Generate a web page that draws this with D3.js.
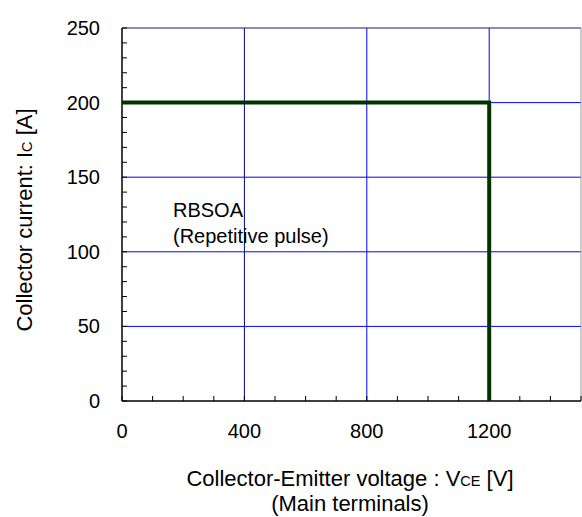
<!DOCTYPE html>
<html>
<head>
<meta charset="utf-8">
<script src="https://cdn.jsdelivr.net/npm/d3@7"></script>
<style>
  body { margin: 0; background: #fff; }
  text { font-family: "Liberation Sans", Arial, sans-serif; fill: #000; }
</style>
</head>
<body>
<script>
// RBSOA boundary (V, A)
const soaV = [0, 1200, 1200];
const soaI = [200, 200, 0];
const xTicks = [0, 400, 800, 1200];
const yTicks = [0, 50, 100, 150, 200, 250];
const xMinor = d3.range(0, 1501, 100);
const yMinor = d3.range(0, 251, 10);

const W = 582, H = 517;
const m = { left: 122, right: 1, top: 28, bottom: 116 };
const w = W - m.left - m.right, h = H - m.top - m.bottom;
const fs = 20, tfs = 22, sub = 14.5;

const svg = d3.select('body').append('svg').attr('width', W).attr('height', H);
const g = svg.append('g').attr('transform', `translate(${m.left},${m.top})`);

const x = d3.scaleLinear().domain([0, 1500]).range([0, w]);
const y = d3.scaleLinear().domain([0, 250]).range([h, 0]);

// grid
g.selectAll('.vg').data(xTicks.filter(d => d > 0)).enter().append('line')
  .attr('x1', d => x(d)).attr('x2', d => x(d)).attr('y1', 0).attr('y2', h)
  .attr('stroke', (d, i) => i == 0 ? '#000080' : '#0000ff').attr('stroke-width', 1);
g.selectAll('.hg').data(yTicks.filter(d => d > 0)).enter().append('line')
  .attr('x1', 0).attr('x2', w).attr('y1', d => y(d)).attr('y2', d => y(d))
  .attr('stroke', d => d == 250 ? '#1a1a6e' : '#0000ff').attr('stroke-width', 1);

// right border
g.append('line').attr('x1', w).attr('x2', w).attr('y1', 0).attr('y2', h)
  .attr('stroke', '#999');

// minor ticks, inward
g.selectAll('.xt').data(xMinor).enter().append('line')
  .attr('x1', d => x(d)).attr('x2', d => x(d)).attr('y1', h).attr('y2', h - 5)
  .attr('stroke', '#000');
g.selectAll('.yt').data(yMinor).enter().append('line')
  .attr('x1', 0).attr('x2', 5).attr('y1', d => y(d)).attr('y2', d => y(d))
  .attr('stroke', '#000');

// axes lines
g.append('line').attr('x1', 0).attr('x2', w).attr('y1', h).attr('y2', h).attr('stroke', '#000').attr('stroke-width', 1.5);
g.append('line').attr('x1', 0).attr('x2', 0).attr('y1', 0).attr('y2', h).attr('stroke', '#000').attr('stroke-width', 1.5);

// SOA line
const line = d3.line().x((d, i) => x(soaV[i])).y((d, i) => y(soaI[i]));
g.append('path').datum(soaV).attr('d', line)
  .attr('fill', 'none').attr('stroke', '#003300').attr('stroke-width', 4)
  .attr('stroke-linejoin', 'miter');

// tick labels
g.selectAll('.xl').data(xTicks).enter().append('text')
  .attr('x', d => x(d)).attr('y', h + 37).attr('text-anchor', 'middle')
  .attr('font-size', fs).text(d => d);
g.selectAll('.yl').data(yTicks).enter().append('text')
  .attr('x', -22).attr('y', d => y(d) + 7).attr('text-anchor', 'end')
  .attr('font-size', fs).text(d => d);

// annotation
g.append('text').attr('x', 51).attr('y', 189).attr('font-size', fs).text('RBSOA');
g.append('text').attr('x', 51).attr('y', 215).attr('font-size', fs).text('(Repetitive pulse)');

// x title
const xt = svg.append('text').attr('x', 350).attr('y', 486).attr('text-anchor', 'middle').attr('font-size', tfs);
xt.append('tspan').text('Collector-Emitter voltage : V');
xt.append('tspan').attr('font-size', sub).text('CE');
xt.append('tspan').text(' [V]');
svg.append('text').attr('x', 350).attr('y', 511).attr('text-anchor', 'middle').attr('font-size', tfs).text('(Main terminals)');

// y title
const yt = svg.append('text').attr('transform', `translate(32,220) rotate(-90)`)
  .attr('text-anchor', 'middle').attr('font-size', tfs);
yt.append('tspan').text('Collector current: I');
yt.append('tspan').attr('font-size', sub).text('C');
yt.append('tspan').text(' [A]');
</script>
</body>
</html>
